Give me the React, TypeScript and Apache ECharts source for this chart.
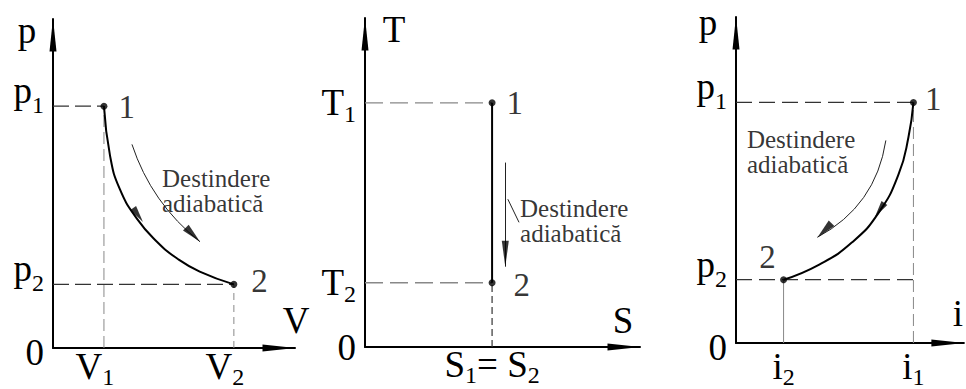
import { useEffect, useRef } from "react";
import * as echarts from "echarts";

const FONT = "Liberation Serif";

// States 1 and 2 of the adiabatic expansion, in normalised units
const pvStates = [[1.0, 3.8], [3.55, 1.0]]; // [V, p]
const tsStates = [[2.5, 3.8], [2.5, 1.0]]; // [S, T]
const piStates = [[3.73, 3.8], [1.0, 1.0]]; // [i, p]
const stateNames = ["1", "2"];

// Adiabat traced through the p–V and p–i planes
const pvAdiabat = [
  [1.0, 3.8], [1.12, 3.02], [1.31, 2.5], [1.65, 2.03],
  [2.04, 1.67], [2.43, 1.41], [2.88, 1.2], [3.55, 1.0],
];
const piAdiabat = [
  [3.73, 3.8], [3.625, 3.25], [3.42, 2.67], [3.0, 2.06],
  [2.44, 1.59], [1.75, 1.24], [1.0, 1.0],
];

// Axis extents [x max, y max]
const pvRange = [4.75, 5.17];
const tsRange = [5.41, 5.12];
const piRange = [4.79, 5.15];

// Tick labels: pairs of [glyph, subscript]
const pvXTicks = [[["V", "1"]], [["V", "2"]]];
const pvYTicks = [[["0", ""]], [["p", "2"]], [["p", "1"]]];
const tsXTicks = [[["S", "1"], ["= S", "2"]]];
const tsYTicks = [[["0", ""]], [["T", "2"]], [["T", "1"]]];
const piXTicks = [[["i", "2"]], [["i", "1"]]];
const piYTicks = [[["0", ""]], [["p", "2"]], [["p", "1"]]];

// "Destindere adiabatică" notes: thin arrows, arrowheads and text anchors
const noteLines = ["Destindere", "adiabatică"];
const pvNoteArrow = [[1.55, 3.2], [2.885, 1.67]];
const tsNoteArrow = [[2.76, 2.87], [2.76, 1.25]];
const tsNoteLeader = [[2.81, 2.3], [3.03, 1.94]];
const piNoteArrow = [[3.15, 3.2], [1.71, 1.67]];
const pvHeads = [[1.67, 2.09], [2.746, 1.78]];
const tsHeads = [[2.76, 1.45]];
const piHeads = [[3.02, 2.1], [1.86, 1.78]];
const pvNoteAt = [2.14, 2.46];
const tsNoteAt = [3.05, 1.96];
const piNoteAt = [0.23, 3.02];

const AXIS_ARROW = "path://M0,0 L3.5,33 L-3.5,33 Z";
const HEAD = "path://M10,0 L20,40 L0,40 Z";

const BIG = 37;
const SUB = 24;
const tok = (fontSize: number, padding: number[]) => ({
  fontFamily: FONT, fontSize, padding, color: "#000",
});
// b/s: glyph and subscript centred on the tick; pb/ps: glyph sitting just above the tick;
// z: origin "0" set slightly below the axis
const rich = {
  b: tok(BIG, [0, 0, 0, 0]),
  s: tok(SUB, [22, 0, 0, 0]),
  pb: tok(BIG, [0, 0, 31, 0]),
  ps: tok(SUB, [0, 0, 2, 0]),
  z: tok(BIG, [8, 0, 0, 0]),
};

function tickFormatter(values: number[], labels: string[][][], main: string, sub: string, zero: string) {
  return (v: number) => {
    const i = values.findIndex((t) => Math.abs(t - v) < 1e-6);
    if (i < 0) return "";
    return labels[i]
      .map(([m, s]) => (s ? `{${main}|${m}}{${sub}|${s}}` : `{${zero}|${m}}`))
      .join("");
  };
}

const nameStyle = (padding: number[]) => ({
  fontFamily: FONT, fontSize: BIG, lineHeight: BIG, color: "#000",
  align: "center", verticalAlign: "bottom", padding,
});

const axisLine = {
  lineStyle: { color: "#000", width: 2 },
  symbol: ["none", AXIS_ARROW], symbolSize: [8, 33], symbolOffset: [0, -16],
};

function xAxis(grid: number, max: number, values: number[], labels: string[][][], name: string,
  nameGap: number, namePad: number[], margin: number, labelPad: number[]) {
  return {
    type: "value", gridIndex: grid, min: 0, max,
    splitLine: { show: false }, axisTick: { show: false }, axisLine,
    axisLabel: {
      customValues: values, margin, padding: labelPad, showMinLabel: true, showMaxLabel: true,
      formatter: tickFormatter(values, labels, "b", "s", "b"), rich,
    },
    name, nameLocation: "end", nameGap, nameTextStyle: nameStyle(namePad),
  };
}

function yAxis(grid: number, max: number, values: number[], labels: string[][][], name: string,
  nameGap: number, namePad: number[], tokens: string[]) {
  return {
    type: "value", gridIndex: grid, min: 0, max,
    splitLine: { show: false }, axisTick: { show: false }, axisLine,
    axisLabel: {
      customValues: values, margin: 9, verticalAlign: "middle", showMinLabel: true, showMaxLabel: true,
      formatter: tickFormatter(values, labels, tokens[0], tokens[1], tokens[2]), rich,
    },
    name, nameLocation: "end", nameGap, nameTextStyle: nameStyle(namePad),
  };
}

function guide(ax: number, a: number[], b: number[], color: string, dash: any, width = 1.2) {
  return {
    type: "line", xAxisIndex: ax, yAxisIndex: ax, data: [a, b], symbol: "none",
    silent: true, z: 1,
    lineStyle: { color, width, type: dash },
  };
}

function curve(ax: number, data: number[][], smooth: number) {
  return {
    type: "line", xAxisIndex: ax, yAxisIndex: ax, data, symbol: "none",
    smooth, silent: true, z: 3,
    lineStyle: { color: "#000", width: 2 },
  };
}

function heads(ax: number, pts: number[][], rots: number[], sizes: number[][]) {
  return {
    type: "scatter", xAxisIndex: ax, yAxisIndex: ax, silent: true, z: 4,
    data: pts.map((p, i) => ({ value: p, symbolRotate: rots[i], symbolSize: sizes[i] })),
    symbol: HEAD, itemStyle: { color: "#000" },
  };
}

function thin(ax: number, coords: number[][], curveness: number) {
  return {
    type: "lines", coordinateSystem: "cartesian2d", xAxisIndex: ax, yAxisIndex: ax,
    silent: true, z: 3, data: [{ coords }],
    lineStyle: { color: "#222", width: 1, curveness, opacity: 1 },
  };
}

function note(ax: number, at: number[]) {
  return {
    type: "scatter", xAxisIndex: ax, yAxisIndex: ax, silent: true, z: 5,
    data: [at], symbolSize: 1, itemStyle: { color: "transparent" },
    label: {
      show: true, position: "inside", align: "left", verticalAlign: "middle",
      formatter: noteLines.join("\n"), fontFamily: FONT, fontSize: 25, lineHeight: 25, color: "#000",
    },
  };
}

function states(ax: number, pts: number[][], labels: any[]) {
  return {
    type: "scatter", xAxisIndex: ax, yAxisIndex: ax, silent: true, z: 6,
    symbolSize: 7, itemStyle: { color: "#000" },
    data: pts.map((p, i) => ({
      value: p,
      label: {
        show: true, formatter: stateNames[i], fontFamily: FONT, fontSize: 33, color: "#000",
        ...labels[i],
      },
    })),
  };
}

function buildOption() {
  const [pv1, pv2] = pvStates;
  const [ts1, ts2] = tsStates;
  const [pi1, pi2] = piStates;
  const dark = "#333";
  const grey = "#888";
  return {
    animation: false,
    backgroundColor: "#fff",
    textStyle: { fontFamily: FONT },
    grid: [
      { left: 53, top: 19, width: 242, height: 331 },
      { left: 365, top: 18, width: 275, height: 329 },
      { left: 736, top: 17, width: 230, height: 333 },
    ],
    xAxis: [
      xAxis(0, pvRange[0], [pv1[0], pv2[0]], pvXTicks, "V", 1, [0, 0, 9, 0], -5, [0, 18, 0, 0]),
      xAxis(1, tsRange[0], [ts1[0]], tsXTicks, "S", -17, [0, 0, 8, 0], -6, [0, 0, 0, 0]),
      xAxis(2, piRange[0], [pi2[0], pi1[0]], piXTicks, "i", -6, [0, 0, 11, 0], 0, [0, 0, 0, 0]),
    ],
    yAxis: [
      yAxis(0, pvRange[1], [0, pv2[1], pv1[1]], pvYTicks, "p", -30, [0, 52, 0, 0], ["pb", "ps", "z"]),
      yAxis(1, tsRange[1], [0, ts2[1], ts1[1]], tsYTicks, "T", -30, [0, 0, 0, 58], ["b", "s", "b"]),
      yAxis(2, piRange[1], [0, pi2[1], pi1[1]], piYTicks, "p", -24, [0, 56, 0, 0], ["pb", "ps", "z"]),
    ],
    series: [
      // p–V diagram
      guide(0, [0, pv1[1]], pv1, dark, [16, 6]),
      guide(0, [pv1[0], 0], pv1, grey, [12, 5], 1),
      guide(0, [0, pv2[1]], pv2, dark, [16, 6]),
      guide(0, [pv2[0], 0], pv2, grey, [7, 5], 1),
      curve(0, pvAdiabat, 0.5),
      thin(0, pvNoteArrow, -0.15),
      heads(0, pvHeads, [-145, -135], [[7, 17], [8, 20]]),
      note(0, pvNoteAt),
      states(0, pvStates, [
        { position: "right", distance: 11, offset: [0, 1] },
        { position: "right", distance: 14, offset: [0, -3] },
      ]),
      // T–S diagram
      guide(1, [0, ts1[1]], ts1, grey, [18, 7], 1.3),
      guide(1, [0, ts2[1]], ts2, grey, [18, 7], 1.3),
      guide(1, [ts2[0], 0], ts2, dark, [7, 4], 1.2),
      curve(1, tsStates, 0),
      thin(1, tsNoteArrow, 0),
      thin(1, tsNoteLeader, 0),
      heads(1, tsHeads, [180], [[7, 26]]),
      note(1, tsNoteAt),
      states(1, tsStates, [
        { position: "right", distance: 11, offset: [0, 0] },
        { position: "right", distance: 18, offset: [0, 2] },
      ]),
      // p–i diagram
      guide(2, [0, pi1[1]], pi1, dark, [16, 7]),
      guide(2, [0, pi2[1]], [pi1[0], pi2[1]], dark, [16, 7]),
      guide(2, [pi1[0], 0], pi1, grey, [12, 5], 1),
      guide(2, [pi2[0], 0], pi2, grey, "solid", 1),
      curve(2, piAdiabat, 0.5),
      thin(2, piNoteArrow, 0.25),
      heads(2, piHeads, [146, 135], [[7, 17], [8, 20]]),
      note(2, piNoteAt),
      states(2, piStates, [
        { position: "right", distance: 8, offset: [0, -3] },
        { position: "inside", align: "center", verticalAlign: "middle", offset: [-16, -23] },
      ]),
    ],
  };
}

export default function App() {
  const ref = useRef<HTMLDivElement>(null);
  useEffect(() => {
    if (!ref.current) return;
    const chart = echarts.init(ref.current, undefined, { renderer: "svg" });
    chart.setOption(buildOption() as any);
    return () => chart.dispose();
  }, []);
  return (
    <div
      ref={ref}
      style={{ position: "fixed", left: 0, top: 0, width: 966, height: 389, background: "#fff" }}
    />
  );
}
